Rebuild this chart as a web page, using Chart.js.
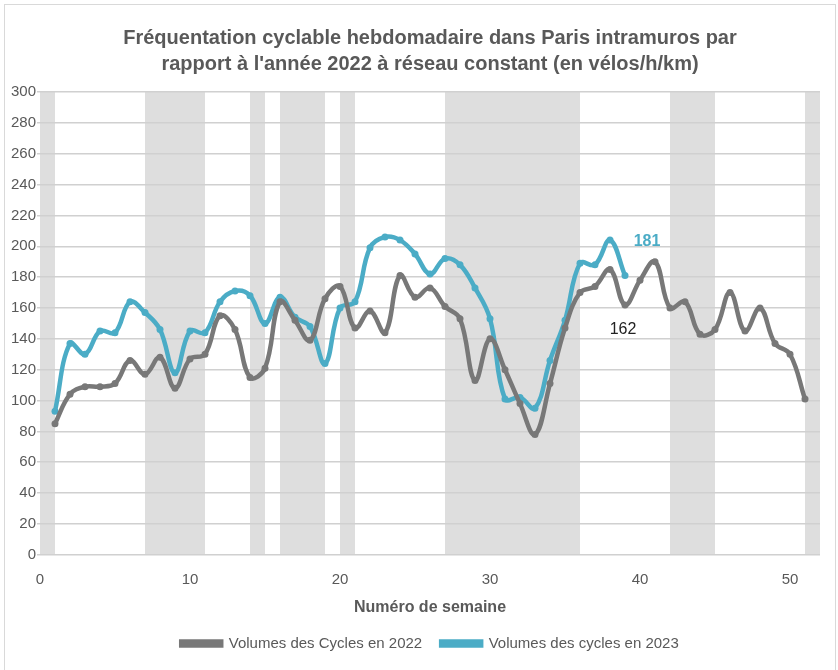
<!DOCTYPE html>
<html>
<head>
<meta charset="utf-8">
<script src="https://cdn.jsdelivr.net/npm/chart.js@4"></script>
<style>
  body { margin: 0; background: #fff; }
  #wrap { position: absolute; left: 0; top: 0; width: 838px; height: 670px; }
  #frame { position: absolute; left: 4px; top: 4px; width: 830px; height: 680px; border: 1px solid #d9d9d9; z-index: 2; pointer-events: none; }
</style>
</head>
<body>
<div id="wrap"><canvas id="chart" width="838" height="670"></canvas></div>
<div id="frame"></div>
<script>
// WEEK NUMBERS
const weeks2022 = [1,2,3,4,5,6,7,8,9,10,11,12,13,14,15,16,17,18,19,20,21,22,23,24,25,26,
  27,28,29,30,31,32,33,34,35,36,37,38,39,40,41,42,43,44,45,46,47,48,49,50,51];
const weeks2023 = weeks2022.slice(0, 39);

// VOLUMES (VELOS/H/KM)
const volumes2022 = [85, 104, 109, 109, 111, 126, 117, 128, 108, 127, 130, 155, 146, 115, 121,
  164, 152, 139, 166, 174, 147, 158, 144, 181, 167, 173, 161, 153, 113, 140, 120, 98, 78, 111,
  147, 170, 174, 185, 162, 178, 190, 160, 164, 143, 146, 170, 145, 160, 137, 130, 101];
const volumes2023 = [93, 137, 130, 145, 144, 164, 157, 146, 118, 145, 144, 164, 171, 168, 150,
  167, 154, 148, 124, 160, 164, 199, 206, 204, 195, 182, 192, 188, 173, 153, 101, 102, 95,
  126, 152, 189, 188, 204, 181];

// SCHOOL HOLIDAYS (GREY BANDS), [START WEEK, END WEEK]
const holidays = [[0, 1], [7, 11], [14, 15], [16, 19], [20, 21], [27, 36], [42, 45], [51, 52]];

// LABELS SHOWN ON THE LAST 2023 WEEK
const lastWeek = 39;

const toPoints = (xs, ys) => xs.map((x, i) => ({ x: x, y: ys[i] }));

const grey = "#787878";
const blue = "#4bacc6";
const textColor = "#595959";
const font = "'Liberation Sans', sans-serif";

// DRAW BANDS BEHIND THE GRID
const bandsPlugin = {
  id: "bands",
  beforeDraw(chart) {
    const { ctx, scales } = chart;
    ctx.save();
    ctx.fillStyle = "#fff";
    ctx.fillRect(0, 0, chart.width, chart.height);
    ctx.fillStyle = "#dedede";
    for (const [a, b] of holidays) {
      const x1 = scales.x.getPixelForValue(a);
      const x2 = scales.x.getPixelForValue(b);
      const y1 = scales.y.getPixelForValue(300);
      const y2 = scales.y.getPixelForValue(0);
      ctx.fillRect(x1, y1, x2 - x1, y2 - y1);
    }
    ctx.restore();
  }
};

// VALUE LABELS FOR WEEK 39
const labelPlugin = {
  id: "lastLabels",
  afterDatasetsDraw(chart) {
    const ctx = chart.ctx;
    const i = weeks2023.indexOf(lastWeek);
    const j = weeks2022.indexOf(lastWeek);
    const p23 = chart.getDatasetMeta(1).data[i];
    const p22 = chart.getDatasetMeta(0).data[j];
    ctx.save();
    ctx.textAlign = "center";
    ctx.textBaseline = "middle";
    ctx.font = "bold 16px " + font;
    ctx.fillStyle = blue;
    ctx.fillText(String(volumes2023[i]), p23.x + 22, p23.y - 34);
    ctx.font = "16px " + font;
    ctx.fillStyle = "#222";
    ctx.fillText(String(volumes2022[j]), p22.x - 2, p22.y + 25);
    ctx.restore();
  }
};

new Chart(document.getElementById("chart"), {
  type: "line",
  plugins: [bandsPlugin, labelPlugin],
  data: {
    datasets: [
      {
        label: "Volumes des Cycles en 2022",
        data: toPoints(weeks2022, volumes2022),
        borderColor: grey,
        backgroundColor: grey,
        borderWidth: 4.5,
        pointRadius: 3.5,
        pointBorderWidth: 0,
        tension: 0.4
      },
      {
        label: "Volumes des cycles en 2023",
        data: toPoints(weeks2023, volumes2023),
        borderColor: blue,
        backgroundColor: blue,
        borderWidth: 4.5,
        pointRadius: 3.5,
        pointBorderWidth: 0,
        tension: 0.4
      }
    ]
  },
  options: {
    responsive: false,
    animation: false,
    layout: { padding: { left: 0, right: 18, top: 0, bottom: 9 } },
    scales: {
      x: {
        type: "linear",
        min: 0,
        max: 52,
        grid: { display: false },
        border: { display: false },
        ticks: { stepSize: 10, color: textColor, font: { family: font, size: 15 }, padding: 8 },
        afterBuildTicks: (s) => { s.ticks = s.ticks.filter((t) => t.value % 10 === 0); },
        title: {
          display: true,
          text: "Numéro de semaine",
          color: textColor,
          font: { family: font, size: 16, weight: "bold" },
          padding: { top: 1, bottom: 0 }
        }
      },
      y: {
        min: 0,
        max: 300,
        ticks: { stepSize: 20, color: textColor, font: { family: font, size: 15 }, padding: 1 },
        grid: { color: "#d0d0d0", lineWidth: 1.5, tickLength: 3 },
        border: { display: false },
        afterFit: (s) => { s.width = 40; }
      }
    },
    plugins: {
      tooltip: { enabled: false },
      title: {
        display: true,
        fullSize: false,
        text: ["Fréquentation cyclable hebdomadaire dans Paris intramuros par",
               "rapport à l'année 2022 à réseau constant (en vélos/h/km)"],
        color: textColor,
        font: { family: font, size: 20, weight: "bold", lineHeight: 1.3 },
        padding: { top: 25, bottom: 15 }
      },
      legend: {
        position: "bottom",
        fullSize: false,
        labels: {
          color: textColor,
          font: { family: font, size: 15 },
          boxWidth: 40,
          boxHeight: 4,
          padding: 19
        }
      }
    }
  }
});
</script>
</body>
</html>
